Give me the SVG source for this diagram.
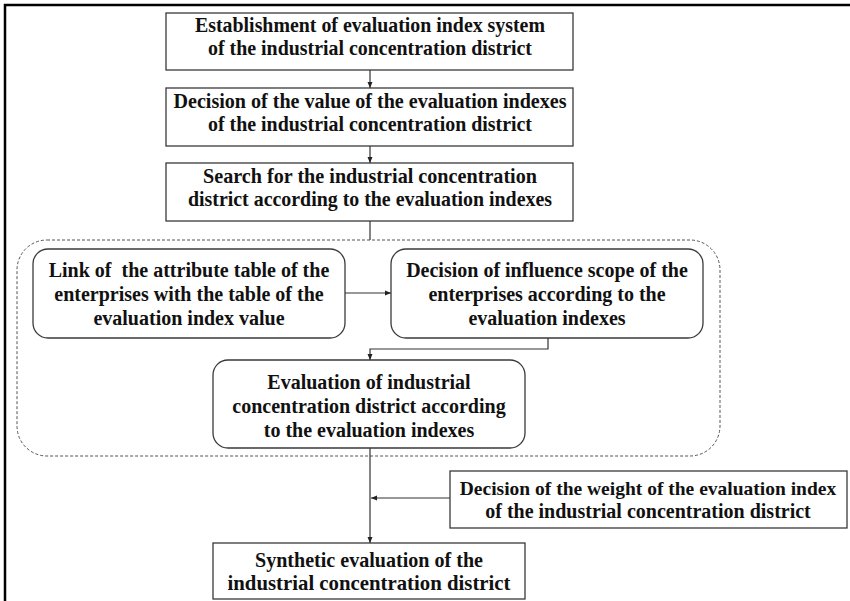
<svg xmlns="http://www.w3.org/2000/svg" width="850" height="601" viewBox="0 0 850 601">
<style>
.bx{fill:#fff;stroke:#3a3a3a;stroke-width:1.3}
.t{font-family:"Liberation Serif","Times New Roman",serif;font-weight:bold;font-size:20px;fill:#111;text-anchor:middle;white-space:pre}
.s{font-size:21px}
.c{fill:none;stroke:#333;stroke-width:1.2}
</style>
<defs>
<marker id="ah" markerWidth="8" markerHeight="8" refX="6" refY="3" orient="auto" markerUnits="userSpaceOnUse">
<path d="M0,0.5 L6,3 L0,5.5 Z" fill="#222"/>
</marker>
</defs>
<rect width="850" height="601" fill="#fff"/>
<path d="M5,601 V5 H850" fill="none" stroke="#000" stroke-width="2.5"/>
<g id="container">
<rect x="17" y="240" width="703" height="216" rx="30" ry="30" fill="none" stroke="#555" stroke-width="1" stroke-dasharray="3,2"/>
</g>
<g id="connectors">
<line class="c" x1="370" y1="70" x2="370" y2="88" marker-end="url(#ah)"/>
<line class="c" x1="370" y1="146" x2="370" y2="163" marker-end="url(#ah)"/>
<line class="c" x1="370" y1="221" x2="370" y2="240"/>
<line class="c" x1="345" y1="293" x2="391" y2="293" marker-end="url(#ah)"/>
<polyline class="c" points="548,338 548,349 370,349 370,360" marker-end="url(#ah)"/>
<line class="c" x1="370" y1="448" x2="370" y2="543" marker-end="url(#ah)"/>
<line class="c" x1="450" y1="498" x2="371" y2="498" marker-end="url(#ah)"/>
</g>
<g id="n1">
<rect class="bx" x="166" y="13" width="407" height="57"/>
<text class="t s" x="370" y="32" textLength="350" lengthAdjust="spacingAndGlyphs">Establishment of evaluation index system</text>
<text class="t s" x="370" y="55" textLength="324" lengthAdjust="spacingAndGlyphs">of the industrial concentration district</text>
</g>
<g id="n2">
<rect class="bx" x="166" y="88" width="407" height="58"/>
<text class="t s" x="370" y="108" textLength="393" lengthAdjust="spacingAndGlyphs">Decision of the value of the evaluation indexes</text>
<text class="t s" x="370" y="131" textLength="324" lengthAdjust="spacingAndGlyphs">of the industrial concentration district</text>
</g>
<g id="n3">
<rect class="bx" x="166" y="163" width="407" height="58"/>
<text class="t s" x="370" y="183" textLength="334" lengthAdjust="spacingAndGlyphs">Search for the industrial concentration</text>
<text class="t s" x="370" y="206" textLength="364" lengthAdjust="spacingAndGlyphs">district according to the evaluation indexes</text>
</g>
<g id="n4">
<rect class="bx" x="33" y="249" width="312" height="89" rx="15" ry="15"/>
<text class="t" x="189" y="277">Link of  the attribute table of the</text>
<text class="t" x="189" y="301">enterprises with the table of the</text>
<text class="t" x="189" y="325">evaluation index value</text>
</g>
<g id="n5">
<rect class="bx" x="391" y="249" width="312" height="89" rx="15" ry="15"/>
<text class="t" x="547" y="277">Decision of influence scope of the</text>
<text class="t" x="547" y="301">enterprises according to the</text>
<text class="t" x="547" y="325">evaluation indexes</text>
</g>
<g id="n6">
<rect class="bx" x="213" y="360" width="312" height="88" rx="15" ry="15"/>
<text class="t" x="369" y="389">Evaluation of industrial</text>
<text class="t" x="369" y="413">concentration district according</text>
<text class="t" x="369" y="437">to the evaluation indexes</text>
</g>
<g id="n7">
<rect class="bx" x="450" y="471" width="397" height="57"/>
<text class="t" x="648" y="495" style="font-size:19.5px">Decision of the weight of the evaluation index</text>
<text class="t" x="648" y="518">of the industrial concentration district</text>
</g>
<g id="n8">
<rect class="bx" x="213" y="543" width="312" height="56"/>
<text class="t s" x="369" y="567" textLength="228" lengthAdjust="spacingAndGlyphs">Synthetic evaluation of the</text>
<text class="t s" x="369" y="590" textLength="283" lengthAdjust="spacingAndGlyphs">industrial concentration district</text>
</g>
</svg>
